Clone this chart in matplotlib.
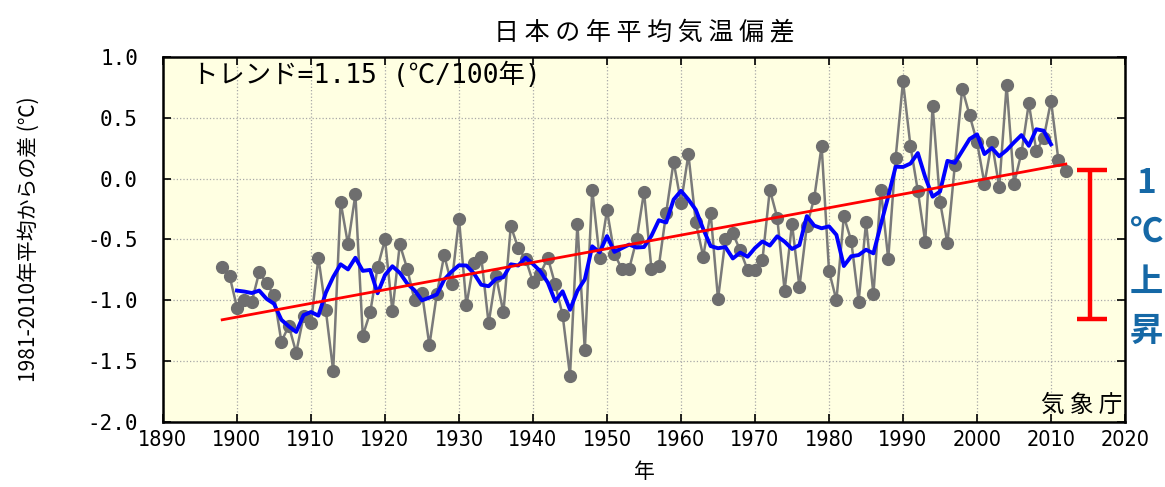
import numpy as np
import pandas as pd
import matplotlib
matplotlib.use("Agg")
import matplotlib.pyplot as plt

plt.rcParams['font.family'] = ['Noto Sans CJK JP', 'DejaVu Sans']

# annual anomaly (deg C, vs 1981-2010)
years = np.arange(1898, 2013)
anomaly = [
    -0.73, -0.80, -1.06, -1.00, -1.01, -0.77, -0.86, -0.96, -1.34, -1.21,   # 1898-1907
    -1.43, -1.13, -1.19, -0.65, -1.08, -1.58, -0.19, -0.54, -0.13, -1.29,   # 1908-1917
    -1.10, -0.73, -0.50, -1.09, -0.54, -0.74, -1.00, -0.94, -1.37, -0.95,   # 1918-1927
    -0.63, -0.87, -0.33, -1.04, -0.69, -0.64, -1.19, -0.80, -1.10, -0.39,   # 1928-1937
    -0.57, -0.66, -0.85, -0.78, -0.65, -0.87, -1.12, -1.62, -0.37, -1.41,   # 1938-1947
    -0.09, -0.65, -0.26, -0.62, -0.74, -0.74, -0.50, -0.11, -0.74, -0.72,   # 1948-1957
    -0.28, 0.14, -0.20, 0.20, -0.36, -0.64, -0.28, -0.99, -0.50, -0.45,     # 1958-1967
    -0.59, -0.75, -0.75, -0.67, -0.09, -0.32, -0.92, -0.37, -0.89, -0.39,   # 1968-1977
    -0.16, 0.27, -0.76, -1.00, -0.31, -0.51, -1.01, -0.36, -0.95, -0.09,    # 1978-1987
    -0.66, 0.17, 0.80, 0.27, -0.10, -0.52, 0.60, -0.19, -0.53, 0.11,        # 1988-1997
    0.74, 0.52, 0.30, -0.04, 0.30, -0.07, 0.77, -0.04, 0.21, 0.62,          # 1998-2007
    0.23, 0.33, 0.64, 0.15, 0.06,                                           # 2008-2012
]
# linear trend line ends, as drawn
trend_years = [1898, 2012]
trend_vals = [-1.16, 0.12]

# 5-year running mean, as in the original
smooth = pd.Series(anomaly, index=years).rolling(5, center=True).mean()

fig = plt.figure(figsize=(11.65, 4.87), dpi=100)
ax = fig.add_axes([0.1399, 0.1335, 0.8258, 0.7495])
ax.set_facecolor('#FFFFE2')

ax.plot(years, anomaly, color='#7a7a7a', lw=1.8, marker='o', ms=8.5,
        mfc='#6e6e6e', mec='#6e6e6e', zorder=3)
ax.plot(smooth.index, smooth.values, color='#0000FF', lw=2.8, zorder=4)
ax.plot(trend_years, trend_vals, color='#FF0000', lw=2.0, zorder=5)

# red bracket: ~1 deg C rise
ax.vlines(2015.3, -1.15, 0.075, color='#FF0000', lw=3.2, zorder=5)
ax.hlines([0.075, -1.15], 2013.5, 2017.6, color='#FF0000', lw=3.2, zorder=5)

ax.set_xlim(1890, 2020)
ax.set_ylim(-2.0, 1.0)
ax.set_xticks(np.arange(1890, 2021, 10))
ax.set_yticks(np.arange(-2.0, 1.01, 0.5))
ax.set_yticklabels([f'{v:.1f}' for v in np.arange(-2.0, 1.01, 0.5)],
                   family='DejaVu Sans Mono', fontsize=15)
ax.set_xticklabels([str(y) for y in range(1890, 2021, 10)],
                   fontsize=15.5, fontstretch='condensed', family='DejaVu Sans')
ax.tick_params(direction='in', top=True, right=True, length=6, width=1.2)
ax.tick_params(axis='y', pad=18)
ax.tick_params(axis='x', pad=6)
ax.grid(True, linestyle=':', color='#a8a8a8', lw=0.9)
ax.set_axisbelow(True)
for s in ax.spines.values():
    s.set_linewidth(1.8)

ax.set_title('日 本 の 年 平 均 気 温 偏 差', fontsize=18, pad=13)
ax.set_ylabel('1981-2010年平均からの差 (℃)', fontsize=15, labelpad=34)
ax.set_xlabel('年', fontsize=15, labelpad=8)

ax.text(0.03, 0.985, 'トレンド=1.15 (℃/100年)', transform=ax.transAxes,
        fontsize=19, ha='left', va='top',
        family=['DejaVu Sans Mono', 'Noto Sans CJK JP'])
ax.text(0.997, 0.015, '気 象 庁', transform=ax.transAxes,
        fontsize=17, ha='right', va='bottom')

for ch, yp in zip(['1', '℃', '上', '昇'], [183, 232, 282, 331]):
    fig.text(1146 / 1165, 1 - yp / 487, ch, fontsize=24, fontweight='bold',
             color='#1568A6', ha='center', va='center')

fig.savefig('out.png', dpi=100)
